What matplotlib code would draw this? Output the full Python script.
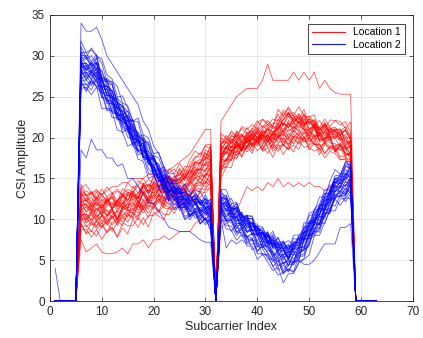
import numpy as np
import matplotlib.pyplot as plt

plt.rcParams['font.family'] = ['Liberation Sans', 'DejaVu Sans']

# subcarrier axis, 63 samples per trace
subcarrier = np.arange(1, 64)

# typical (median) profile of each bundle, segment A = subcarriers 6..31, segment B = 33..58
red_base_a = [11.5, 11, 11, 11, 11, 11, 11, 11, 11.5, 11.5, 12, 12, 12.5, 12.5, 13, 13,
              13, 13.5, 13.5, 14, 14, 14.5, 15, 15.5, 16, 16.5]
red_base_b = [17.5, 18, 18.5, 19, 19, 19.5, 19.5, 20, 20, 20, 20, 20.5, 20.5, 21, 21, 21,
              21, 20.5, 20.5, 20, 20, 20, 19.5, 19.5, 19, 18.5]
blue_base_a = [28.5, 28, 28, 28, 26.5, 25.5, 24.5, 23.5, 22.5, 21.5, 20.5, 19.5, 18.5, 17.5,
               16.5, 15.5, 14.5, 13.5, 13, 12.5, 12, 11.5, 11.5, 11, 11, 10.5]
blue_base_b = [11.5, 11, 10.5, 10, 9.5, 9, 8.5, 8, 7.5, 7, 6.5, 6, 5.5, 5.5, 6, 6.5, 7.5,
               8.5, 9.5, 10.5, 11.5, 12.5, 13.5, 14, 14.5, 15]

# per-trace offsets read from the spread of each bundle
red_a_start = [-2.8, -2.3, -2, -1.7, -1.4, -1.2, -1, -0.8, -0.6, -0.4, -0.2, 0, 0.2, 0.4, 0.6,
               0.8, 1, 1.2, 1.4, 1.7, 2, 2.3, 2.6, -1.5, 0.3, -0.5, 1.1, -2.5, 0.7, 1.9]
red_a_end = [-2.5, 0.5, -1, 1.5, -2, 2, 0, -1.5, 1, -0.5, 2.5, -1.2, 0.8, -0.3, 1.8, -2.8, 0.2,
             1.2, -0.8, 2.2, -1.8, 0.6, 1.4, -0.2, 3, -1, 0.9, -2.2, 1.6, 0.4]
red_b_start = [-1.5, 0.5, -1, 1.5, -0.5, 2, 0, -1.8, 1, 0.3, -0.8, 2.5, 0.7, -0.2, 1.2, -1.2,
               0.4, 1.8, -0.4, 0.9, -2, 1.6, 0.1, -0.9, 2.2, 0.6, -0.6, 1.1, -1.4, 0.2]
red_b_mid = [0.5, -1.5, 2, -0.5, 1.2, -2.2, 0.8, 1.6, -1, 2.4, 0, -0.8, 1.4, -1.8, 0.3, 2,
             -0.3, -1.2, 1, -2.5, 0.6, 1.8, -0.6, 0.2, -1.4, 2.2, 0.9, -2, 1.5, -0.1]
red_b_end = [-1, 1.5, 0.5, -2, 1, -0.5, 2.5, 0, -1.5, 0.8, 1.8, -0.8, -0.2, 2, 0.3, -1.2, 1.2,
             -2.2, 0.6, -0.4, 1.4, -1.6, 0.9, 2.8, -0.6, 0.2, -1, 1.6, 0.4, -0.3]
blue_a_start = [-2.5, -2, -1.7, -1.4, -1.1, -0.9, -0.7, -0.5, -0.3, -0.1, 0.1, 0.3, 0.5, 0.7,
                0.9, 1.1, 1.3, 1.6, 1.9, 2.3, -1.2, 0.2, 1, -0.6, 1.5, -1.8, 0.6, 2.8, -0.2, 0.4]
blue_a_end = [-1, 0.8, -0.4, 1.2, -1.4, 0.2, 1.5, -0.8, 0.5, -0.2, 1, -1.2, 0.3, -0.6, 1.3, 0,
              -1.5, 0.7, -0.3, 1.8, 0.4, -1, 0.9, -0.5, 0.1, 1.1, -0.9, 0.6, -0.1, 1.4]
blue_b_start = [-1.5, 0.5, -0.8, 1.2, -0.3, 2, 0, -1.2, 0.8, -0.5, 1.5, -1, 0.3, 1, -0.2, 0.7,
                -1.8, 0.4, -0.6, 1.8, 0.1, -0.9, 1.3, -0.4, 0.6, -1.3, 0.9, 0.2, -0.1, 2.2]
blue_b_mid = [-1, 0.8, -2.3, 0.3, 1.2, -1.6, 0.5, -0.4, 1.5, -2, 0, 0.9, -1.2, 0.6, -0.7, 1.1,
              -2.5, 0.2, 1.4, -0.9, 0.7, -1.4, 0.4, -0.1, 1, -1.8, 0.3, -0.6, 1.3, -0.3]
blue_b_end = [-1.5, 1, -0.5, 0.5, -2, 1.5, 0, -1, 2, -0.8, 0.3, 1.2, -1.2, 0.8, -0.3, 1.8, -1.8,
              0.6, -0.6, 0.2, 1.4, -0.2, -1.4, 0.9, -0.9, 2.2, 0.4, -0.4, 1.1, -2.2]

# small sample-to-sample fluctuation patterns (26 values each)
jitter = [
    [0, .6, -.4, .5, -.7, .3, .8, -.5, .2, -.6, .7, -.3, .4, -.8, .5, 0, -.4, .6, -.2, .5, -.6, .3, .7, -.4, .2, -.3],
    [.3, -.5, .7, -.2, .4, -.8, .2, .6, -.4, .3, -.6, .8, -.2, .4, -.5, .7, -.3, .2, .6, -.7, .4, -.2, .3, .5, -.6, .1],
    [-.4, .2, -.6, .8, -.1, .5, -.7, .3, .6, -.2, .4, -.5, .7, -.3, .1, -.6, .8, -.4, .3, -.1, .6, -.5, .2, -.3, .7, -.2],
    [.5, -.3, .1, -.6, .7, -.2, .4, -.7, .5, .1, -.4, .6, -.8, .3, -.2, .5, -.1, -.6, .7, -.3, .2, .6, -.5, .4, -.1, .3],
    [-.2, .7, -.3, .2, -.5, .6, -.1, .4, -.7, .8, -.3, .1, .5, -.6, .3, -.4, .6, -.2, -.5, .4, -.7, .2, .5, -.2, .6, -.4],
    [.4, 0, .5, -.5, .2, -.3, .6, -.6, .1, .4, -.2, -.7, .3, .6, -.4, .2, -.5, .7, 0, -.3, .5, -.6, .4, .1, -.5, .6],
]

# individual outlier traces
red_low_a = [7.5, 6, 6.5, 7, 6, 5.8, 5.8, 6, 6.5, 5.8, 7, 7, 7.5, 6.5, 7.5, 7.5, 8, 7.5, 8, 8.5,
             8.5, 8.5, 9.5, 10, 10.5, 11]
red_low_b = [9, 9.5, 10, 11, 12.5, 14, 13.5, 14, 13.5, 14.5, 14, 15, 14, 14.5, 14, 14.5, 14,
             14.5, 14, 14, 13.5, 14, 14, 14.5, 14.5, 14.5]
red_high_a = [13, 13.5, 13, 13.5, 13, 13.5, 14, 14, 14.5, 14.5, 15, 15, 15, 15.5, 15.5, 15.5, 16,
              16, 16.5, 17, 17.5, 18, 19, 20, 21, 21]
red_high_b = [22, 23, 24, 25, 25.5, 26, 26, 26, 27, 29, 27, 27, 27, 27, 28, 27, 28, 27, 28, 26,
              27, 26, 25.5, 25.3, 25.3, 25.3]
blue_high_a = [34, 33, 33, 33.5, 32, 30, 29, 28, 27, 26, 25, 24, 22, 21, 19, 18, 16.5, 15, 14,
               13.5, 13, 12.5, 12, 12, 11.5, 11]
blue_high_b = [12, 12, 11.5, 11, 10.5, 10, 9.5, 9, 8.5, 8, 7.5, 7, 6.5, 6.5, 7, 7.5, 8.5, 9.5,
               10.5, 11.5, 12.5, 13.5, 14.5, 15, 15.5, 16]
blue_low_a = [18.5, 17.5, 19.8, 18.5, 18.5, 17.5, 17.5, 16.5, 16.8, 15, 15, 14, 13, 12, 12, 11,
              10, 9, 8.8, 8.5, 8.5, 8.5, 8, 7.5, 7.2, 7.2]
blue_low_b = [10, 6.5, 7.5, 7, 7.5, 7, 7, 7, 7, 7, 7, 7, 7, 6.5, 6, 5, 4.5, 4.5, 5, 6, 7, 7, 7,
              9, 9, 9.5]
blue_first_value = 4


def build_trace(seg_a, seg_b, first=0.0):
    y = np.zeros(len(subcarrier))
    y[0] = first
    y[5:31] = seg_a
    y[32:58] = seg_b
    return y


def bundle(base_a, base_b, a0, a1, b0, bm, b1):
    t = np.linspace(0, 1, 26)
    traces = []
    for i in range(len(a0)):
        ja = np.array(jitter[i % 6])
        jb = np.array(jitter[(i + i // 6 + 3) % 6])
        seg_a = np.array(base_a) + a0[i] * (1 - t) + a1[i] * t + ja
        off_b = np.interp(t, [0, 0.5, 1], [b0[i], bm[i], b1[i]])
        seg_b = np.array(base_b) + off_b + jb
        traces.append(build_trace(seg_a, seg_b))
    return traces


red_traces = bundle(red_base_a, red_base_b, red_a_start, red_a_end,
                    red_b_start, red_b_mid, red_b_end)
red_traces.append(build_trace(red_low_a, red_low_b))
red_traces.append(build_trace(red_high_a, red_high_b))

blue_traces = bundle(blue_base_a, blue_base_b, blue_a_start, blue_a_end,
                     blue_b_start, blue_b_mid, blue_b_end)
blue_traces.append(build_trace(blue_high_a, blue_high_b))
blue_traces.append(build_trace(blue_low_a, blue_low_b, first=blue_first_value))

fig = plt.figure(figsize=(4.23, 3.38), dpi=100)
ax = fig.add_axes([0.118, 0.109, 0.858, 0.847])

for k, y in enumerate(red_traces):
    ax.plot(subcarrier, y, color='#ff0000', lw=0.6, alpha=0.65,
            label='Location 1' if k == 0 else None)
for k, y in enumerate(blue_traces):
    ax.plot(subcarrier, y, color='#0000ff', lw=0.6, alpha=0.65,
            label='Location 2' if k == 0 else None)

ax.set_xlim(0, 70)
ax.set_ylim(0, 35)
ax.set_xticks(range(0, 71, 10))
ax.set_yticks(range(0, 36, 5))
ax.grid(True, color='#262626', alpha=0.12, lw=0.6)
ax.tick_params(direction='in', top=True, right=True, labelsize=8.5,
               colors='#262626', length=3, width=0.5)
for s in ax.spines.values():
    s.set_color('#262626')
    s.set_linewidth(0.6)
ax.set_xlabel('Subcarrier Index', fontsize=9, color='#262626', labelpad=2)
ax.set_ylabel('CSI Amplitude', fontsize=9, color='#262626', labelpad=2)

leg = ax.legend(loc='upper right', fontsize=7.5, fancybox=False, framealpha=1,
                edgecolor='#262626', handlelength=3.2, borderpad=0.35,
                labelspacing=0.25, borderaxespad=0,
                bbox_to_anchor=(0.978, 0.969))
leg.get_frame().set_linewidth(0.6)
for line in leg.get_lines():
    line.set_alpha(0.9)
    line.set_linewidth(0.8)

fig.savefig('out.png', dpi=100)
